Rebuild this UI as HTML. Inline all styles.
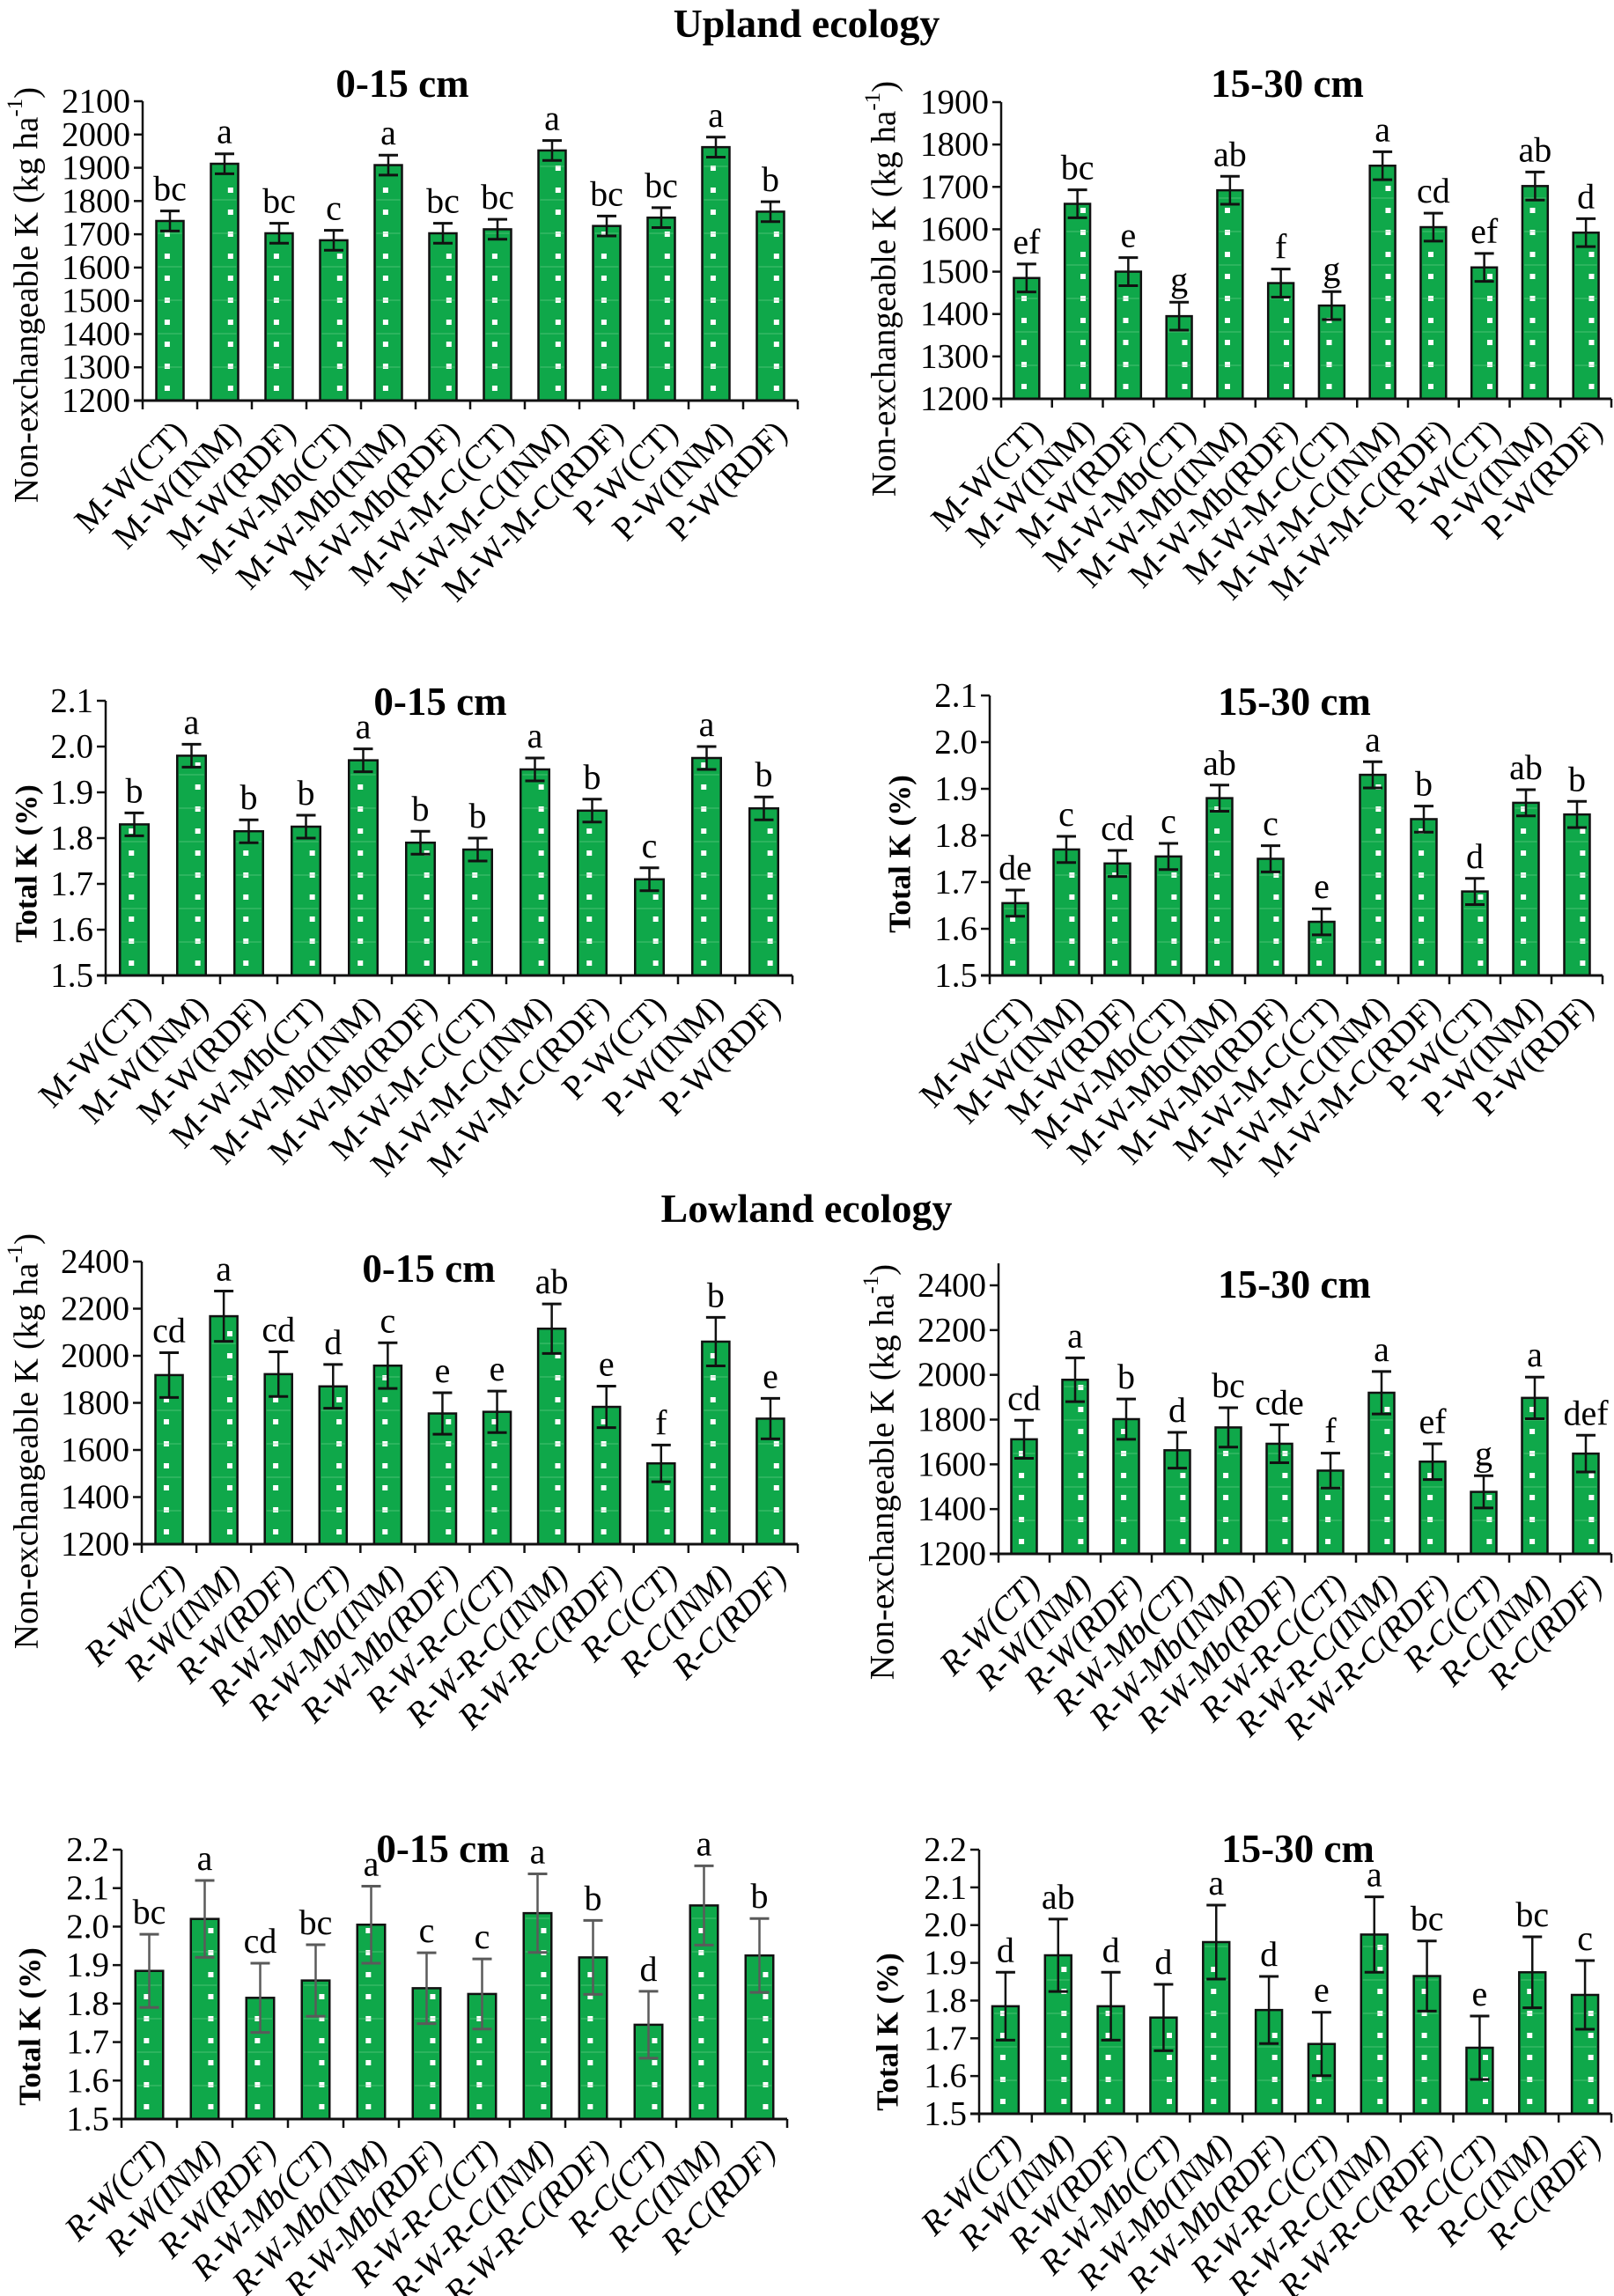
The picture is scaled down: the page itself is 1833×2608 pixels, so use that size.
<!DOCTYPE html>
<html><head><meta charset="utf-8"><style>
html,body{margin:0;padding:0;background:#fff;}
svg{display:block;}
svg text{font-family:"Liberation Serif","Times New Roman",serif;}
</style></head>
<body>
<svg id="fig" width="1833" height="2608" viewBox="0 0 1833 2608" xmlns="http://www.w3.org/2000/svg">
<text x="916" y="42" text-anchor="middle" font-size="46" font-weight="bold" font-family="Liberation Serif, serif">Upland ecology</text>
<text x="916" y="1388" text-anchor="middle" font-size="46" font-weight="bold" font-family="Liberation Serif, serif">Lowland ecology</text>
</svg>
<script>
// ---- category labels ----
const uplandCategories = ["M-W(CT)","M-W(INM)","M-W(RDF)","M-W-Mb(CT)","M-W-Mb(INM)","M-W-Mb(RDF)","M-W-M-C(CT)","M-W-M-C(INM)","M-W-M-C(RDF)","P-W(CT)","P-W(INM)","P-W(RDF)"];
const lowlandCategories = ["R-W(CT)","R-W(INM)","R-W(RDF)","R-W-Mb(CT)","R-W-Mb(INM)","R-W-Mb(RDF)","R-W-R-C(CT)","R-W-R-C(INM)","R-W-R-C(RDF)","R-C(CT)","R-C(INM)","R-C(RDF)"];

// ---- upland non-exchangeable K 0-15 ----
const upNek0Values = [1740,1912,1703,1682,1908,1703,1715,1952,1725,1750,1962,1768];
const upNek0Errors = [30,30,30,30,30,30,30,30,30,30,30,30];
const upNek0Letters = ["bc","a","bc","c","a","bc","bc","a","bc","bc","a","b"];
const upNek0Ticks = [1200,1300,1400,1500,1600,1700,1800,1900,2000,2100];
// ---- upland non-exchangeable K 15-30 ----
const upNek15Values = [1485,1660,1500,1395,1692,1473,1420,1750,1605,1510,1702,1592];
const upNek15Errors = [33,33,33,33,33,33,33,33,33,33,33,33];
const upNek15Letters = ["ef","bc","e","g","ab","f","g","a","cd","ef","ab","d"];
const upNek15Ticks = [1200,1300,1400,1500,1600,1700,1800,1900];
// ---- upland total K 0-15 ----
const upTk0Values = [1.83,1.98,1.815,1.825,1.97,1.79,1.775,1.95,1.86,1.71,1.975,1.865];
const upTk0Errors = [0.025,0.025,0.025,0.025,0.025,0.025,0.025,0.025,0.025,0.025,0.025,0.025];
const upTk0Letters = ["b","a","b","b","a","b","b","a","b","c","a","b"];
const upTk0Ticks = ["1.5","1.6","1.7","1.8","1.9","2.0","2.1"];
// ---- upland total K 15-30 ----
const upTk15Values = [1.655,1.77,1.74,1.755,1.88,1.75,1.615,1.93,1.835,1.68,1.87,1.845];
const upTk15Errors = [0.028,0.028,0.028,0.028,0.028,0.028,0.028,0.028,0.028,0.028,0.028,0.028];
const upTk15Letters = ["de","c","cd","c","ab","c","e","a","b","d","ab","b"];
const upTk15Ticks = ["1.5","1.6","1.7","1.8","1.9","2.0","2.1"];
// ---- lowland non-exchangeable K 0-15 ----
const lowNek0Values = [1918,2168,1922,1870,1958,1755,1762,2115,1783,1543,2060,1733];
const lowNek0Errors = [95,107,95,93,97,88,88,105,88,78,103,86];
const lowNek0Letters = ["cd","a","cd","d","c","e","e","ab","e","f","b","e"];
const lowNek0Ticks = [1200,1400,1600,1800,2000,2200,2400];
// ---- lowland non-exchangeable K 15-30 ----
const lowNek15Values = [1712,1978,1802,1663,1765,1692,1572,1920,1612,1477,1897,1648];
const lowNek15Errors = [85,98,90,80,88,85,78,95,80,72,93,82];
const lowNek15Letters = ["cd","a","b","d","bc","cde","f","a","ef","g","a","def"];
const lowNek15Ticks = [1200,1400,1600,1800,2000,2200,2400];
// ---- lowland total K 0-15 ----
const lowTk0Values = [1.885,2.02,1.815,1.86,2.005,1.84,1.825,2.035,1.92,1.745,2.055,1.925];
const lowTk0Errors = [0.095,0.1,0.09,0.093,0.1,0.092,0.091,0.102,0.096,0.087,0.103,0.096];
const lowTk0Letters = ["bc","a","cd","bc","a","c","c","a","b","d","a","b"];
const lowTk0Ticks = ["1.5","1.6","1.7","1.8","1.9","2.0","2.1","2.2"];
// ---- lowland total K 15-30 ----
const lowTk15Values = [1.785,1.92,1.785,1.755,1.955,1.775,1.685,1.975,1.865,1.675,1.875,1.815];
const lowTk15Errors = [0.09,0.096,0.09,0.088,0.098,0.089,0.084,0.1,0.093,0.084,0.094,0.091];
const lowTk15Letters = ["d","ab","d","d","a","d","e","a","bc","e","bc","c"];
const lowTk15Ticks = ["1.5","1.6","1.7","1.8","1.9","2.0","2.1","2.2"];

const NS = "http://www.w3.org/2000/svg";
const FONT = "Liberation Serif, serif";
const svg = document.getElementById("fig");
function mk(tag, attrs, parent){
  const e = document.createElementNS(NS, tag);
  for (const k in attrs) e.setAttribute(k, attrs[k]);
  if (tag === "text") e.setAttribute("font-family", FONT);
  (parent||svg).appendChild(e);
  return e;
}

const panels = [
 {id:"upland-nek-0-15", cats:uplandCategories, vals:upNek0Values, errs:upNek0Errors, letters:upNek0Letters, ticks:upNek0Ticks,
  x0:162, x1:906, yTop:115, yBot:455, axisTop:115, min:1200, max:2100, title:"0-15 cm", tx:457, ty:110,
  ytitle:"Non-exchangeable K (kg ha", sup:true, bold:false, ytx:30, yty:335, italic:false, errColor:"#111"},
 {id:"upland-nek-15-30", cats:uplandCategories, vals:upNek15Values, errs:upNek15Errors, letters:upNek15Letters, ticks:upNek15Ticks,
  x0:1137, x1:1830, yTop:116, yBot:453, axisTop:116, min:1200, max:1900, title:"15-30 cm", tx:1462, ty:110,
  ytitle:"Non-exchangeable K (kg ha", sup:true, bold:false, ytx:1004, yty:328, italic:false, errColor:"#111"},
 {id:"upland-totalk-0-15", cats:uplandCategories, vals:upTk0Values, errs:upTk0Errors, letters:upTk0Letters, ticks:upTk0Ticks,
  x0:120, x1:900, yTop:796, yBot:1108, axisTop:796, min:1.5, max:2.1, title:"0-15 cm", tx:500, ty:812,
  ytitle:"Total K (%)", sup:false, bold:true, ytx:30, yty:981, italic:false, errColor:"#111"},
 {id:"upland-totalk-15-30", cats:uplandCategories, vals:upTk15Values, errs:upTk15Errors, letters:upTk15Letters, ticks:upTk15Ticks,
  x0:1124, x1:1820, yTop:790, yBot:1108, axisTop:790, min:1.5, max:2.1, title:"15-30 cm", tx:1470, ty:812,
  ytitle:"Total K (%)", sup:false, bold:true, ytx:1022, yty:970, italic:false, errColor:"#111"},
 {id:"lowland-nek-0-15", cats:lowlandCategories, vals:lowNek0Values, errs:lowNek0Errors, letters:lowNek0Letters, ticks:lowNek0Ticks,
  x0:161, x1:906, yTop:1433, yBot:1754, axisTop:1433, min:1200, max:2400, title:"0-15 cm", tx:487, ty:1456,
  ytitle:"Non-exchangeable K (kg ha", sup:true, bold:false, ytx:30, yty:1637, italic:true, errColor:"#111"},
 {id:"lowland-nek-15-30", cats:lowlandCategories, vals:lowNek15Values, errs:lowNek15Errors, letters:lowNek15Letters, ticks:lowNek15Ticks,
  x0:1134, x1:1830, yTop:1460, yBot:1765, axisTop:1435, min:1200, max:2400, title:"15-30 cm", tx:1470, ty:1474,
  ytitle:"Non-exchangeable K (kg ha", sup:true, bold:false, ytx:1002, yty:1672, italic:true, errColor:"#111"},
 {id:"lowland-totalk-0-15", cats:lowlandCategories, vals:lowTk0Values, errs:lowTk0Errors, letters:lowTk0Letters, ticks:lowTk0Ticks,
  x0:138, x1:894, yTop:2101, yBot:2407, axisTop:2101, min:1.5, max:2.2, title:"0-15 cm", tx:503, ty:2115,
  ytitle:"Total K (%)", sup:false, bold:true, ytx:34, yty:2302, italic:true, errColor:"#5a5a5a"},
 {id:"lowland-totalk-15-30", cats:lowlandCategories, vals:lowTk15Values, errs:lowTk15Errors, letters:lowTk15Letters, ticks:lowTk15Ticks,
  x0:1112, x1:1830, yTop:2101, yBot:2401, axisTop:2101, min:1.5, max:2.2, title:"15-30 cm", tx:1474, ty:2115,
  ytitle:"Total K (%)", sup:false, bold:true, ytx:1008, yty:2308, italic:true, errColor:"#111"}
];

panels.forEach(p => {
  const g = mk("g", {});
  
  
  const y = v => p.yBot - (v - p.min) / (p.max - p.min) * (p.yBot - p.yTop);
  const n = p.cats.length;
  const W = (p.x1 - p.x0) / n;
  const bw = W * 0.5;
  const cx = i => p.x0 + W * (i + 0.5);

  const t = mk("text", {x:p.tx, y:p.ty, "text-anchor":"middle", "font-size":45, "font-weight":"bold"}, g);
  t.textContent = p.title;
  
  

  const ym = p.yty;
  const yt = mk("text", {x:p.ytx, y:ym, transform:`rotate(-90 ${p.ytx} ${ym})`, "text-anchor":"middle",
    "dominant-baseline":"central", "font-size":p.bold?35:39, "font-weight":p.bold?"bold":"normal"}, g);
  
  
  if (p.sup) {
    yt.appendChild(document.createTextNode(p.ytitle));
    const s = document.createElementNS(NS, "tspan");
    s.setAttribute("dy", "-13"); s.setAttribute("font-size", "25"); s.textContent = "-1";
    yt.appendChild(s);
    const s2 = document.createElementNS(NS, "tspan");
    s2.setAttribute("dy", "13"); s2.textContent = ")";
    yt.appendChild(s2);
  } else yt.textContent = p.ytitle;

  p.vals.forEach((v, i) => {
    const top = y(v), x = cx(i) - bw / 2;
    const r = mk("rect", {x:x, y:top, width:bw, height:p.yBot - top, fill:"#0fa84a", stroke:"#111", "stroke-width":2.5}, g);
    
    
    const dx = cx(i) + (i % 2 ? bw * 0.22 : -bw * 0.1);
    for (let yy = p.yBot - 14; yy > top + 6; yy -= 25) {
      mk("rect", {x:dx - 3, y:yy - 3, width:6, height:6, fill:"#fff"}, g);
    }
    for (let yy = p.yBot - 38; yy > top + 4; yy -= 38) {
      mk("line", {x1:x + 2, x2:x + bw - 2, y1:yy, y2:yy, stroke:"#6fd08f", "stroke-width":1, opacity:0.6}, g);
    }
  });

  const ax = mk("line", {x1:p.x0, x2:p.x0, y1:p.axisTop, y2:p.yBot, stroke:"#111", "stroke-width":2.5}, g);
  
  
  const bx = mk("line", {x1:p.x0 - 10, x2:p.x1, y1:p.yBot, y2:p.yBot, stroke:"#111", "stroke-width":3}, g);
  
  
  for (let i = 0; i <= n; i++) {
    const xx = p.x0 + W * i;
    mk("line", {x1:xx, x2:xx, y1:p.yBot, y2:p.yBot + 10, stroke:"#111", "stroke-width":2.5}, g);
  }

  p.ticks.forEach(tv => {
    const yy = y(parseFloat(tv));
    mk("line", {x1:p.x0 - 10, x2:p.x0, y1:yy, y2:yy, stroke:"#111", "stroke-width":2.5}, g);
    const tl = mk("text", {x:p.x0 - 14, y:yy, "text-anchor":"end", "dominant-baseline":"central", "font-size":39}, g);
    tl.textContent = tv;
    
    
  });

  p.vals.forEach((v, i) => {
    const e = p.errs[i], c = cx(i);
    const hi = y(v + e), lo = y(v - e);
    mk("line", {x1:c, x2:c, y1:hi, y2:lo, stroke:p.errColor, "stroke-width":2.5}, g);
    mk("line", {x1:c - 11, x2:c + 11, y1:hi, y2:hi, stroke:p.errColor, "stroke-width":3}, g);
    mk("line", {x1:c - 11, x2:c + 11, y1:lo, y2:lo, stroke:p.errColor, "stroke-width":3}, g);
    const lt = mk("text", {x:c, y:hi - 12, "text-anchor":"middle", "font-size":40}, g);
    lt.textContent = p.letters[i];
    
    
  });

  p.cats.forEach((cat, i) => {
    const lx = cx(i) + 12, ly = p.yBot + 30;
    const cl = mk("text", {x:lx, y:ly, transform:`rotate(-45 ${lx} ${ly})`, "text-anchor":"end",
      "dominant-baseline":"central", "font-size":39, "font-style":p.italic?"italic":"normal"}, g);
    cl.textContent = cat;
    
    
  });
});
</script>
</body></html>
